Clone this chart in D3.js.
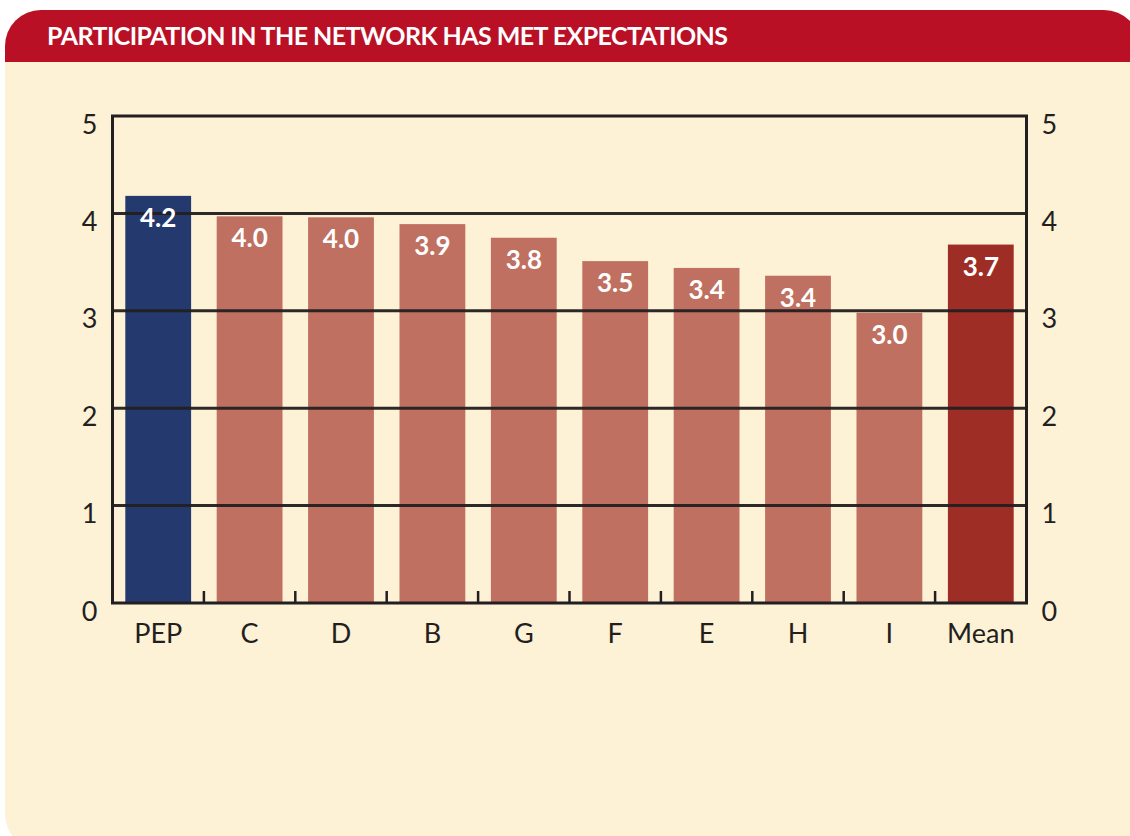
<!DOCTYPE html>
<html>
<head>
<meta charset="utf-8">
<script src="https://cdn.jsdelivr.net/npm/d3@7"></script>
<style>
body { margin: 0; background: white; }
svg { display: block; }
</style>
</head>
<body>
<svg width="1130" height="836"></svg>
<script>
// data
const categories = ["PEP", "C", "D", "B", "G", "F", "E", "H", "I", "Mean"]
const values = [4.18, 3.97, 3.96, 3.89, 3.75, 3.51, 3.44, 3.36, 2.98, 3.68]
const valueLabels = ["4.2", "4.0", "4.0", "3.9", "3.8", "3.5", "3.4", "3.4", "3.0", "3.7"]
const yTicks = [0, 1, 2, 3, 4, 5]
const title = "PARTICIPATION IN THE NETWORK HAS MET EXPECTATIONS"

const svg = d3.select("svg")
const font = "Lato, 'Liberation Sans', sans-serif"

// panel with rounded corners
svg.append("clipPath")
    .attr("id", "panel")
    .append("rect")
    .attr("x", 5)
    .attr("y", 10)
    .attr("width", 1135)
    .attr("height", 840)
    .attr("rx", 36)
const panel = svg.append("g").attr("clip-path", "url(#panel)")
panel.append("rect")
    .attr("x", 0).attr("y", 0)
    .attr("width", 1130).attr("height", 836)
    .attr("fill", "#fdf1d6")
panel.append("rect")
    .attr("x", 0).attr("y", 0)
    .attr("width", 1130).attr("height", 62)
    .attr("fill", "#b91026")

svg.append("text")
    .attr("x", 47)
    .attr("y", 45)
    .attr("fill", "white")
    .attr("font-family", font)
    .attr("font-weight", "bold")
    .attr("font-size", 25)
    .attr("textLength", 681)
    .attr("lengthAdjust", "spacing")
    .text(title)

const plotLeft = 112.5, plotRight = 1026.5, plotTop = 116, plotBottom = 603

const x = d3.scaleBand()
    .domain(categories)
    .range([plotLeft, plotRight])
    .paddingInner(0.28)
    .paddingOuter(0.14)
const y = d3.scaleLinear()
    .domain([0, 5])
    .range([plotBottom, plotTop])

function barColor(d, i) {
    if (d === "PEP") return "#243a6e"
    if (d === "Mean") return "#9e2d26"
    return "#c07060"
}

svg.selectAll("rect.bar")
    .data(categories)
    .enter()
    .append("rect")
    .attr("class", "bar")
    .attr("x", d => x(d))
    .attr("width", x.bandwidth())
    .attr("y", (d, i) => y(values[i]))
    .attr("height", (d, i) => y(0) - y(values[i]))
    .attr("fill", barColor)

// grid lines and frame
svg.selectAll("line.grid")
    .data(yTicks.slice(1, 5))
    .enter()
    .append("line")
    .attr("class", "grid")
    .attr("x1", plotLeft).attr("x2", plotRight)
    .attr("y1", d => y(d)).attr("y2", d => y(d))
    .attr("stroke", "#231f20")
    .attr("stroke-width", 3)
    .attr("opacity", 0.95)

svg.append("path")
    .attr("d", `M${plotLeft},${plotBottom}V${plotTop}H${plotRight}V${plotBottom}Z`)
    .attr("fill", "none")
    .attr("stroke", "#231f20")
    .attr("stroke-width", 3)

// small ticks between categories
svg.selectAll("line.xtick")
    .data(categories.slice(1))
    .enter()
    .append("line")
    .attr("class", "xtick")
    .attr("x1", d => x(d) - x.step() * x.paddingInner() / 2)
    .attr("x2", d => x(d) - x.step() * x.paddingInner() / 2)
    .attr("y1", plotBottom)
    .attr("y2", plotBottom - 12)
    .attr("stroke", "#231f20")
    .attr("stroke-width", 2.5)

// left and right axes labels
const leftAxis = svg.append("g")
    .attr("transform", `translate(${plotLeft},0)`)
    .call(d3.axisLeft(y).tickValues(yTicks).tickFormat(d3.format("d")).tickSize(0).tickPadding(15))
const rightAxis = svg.append("g")
    .attr("transform", `translate(${plotRight},0)`)
    .call(d3.axisRight(y).tickValues(yTicks).tickFormat(d3.format("d")).tickSize(0).tickPadding(15))
const bottomAxis = svg.append("g")
    .attr("transform", `translate(0,${plotBottom})`)
    .call(d3.axisBottom(x).tickSize(0).tickPadding(0))
for (const g of [leftAxis, rightAxis, bottomAxis]) {
    g.select(".domain").remove()
    g.selectAll("text")
        .attr("font-family", font)
        .attr("font-size", 27)
        .attr("fill", "#231f20")
}
leftAxis.selectAll("text").attr("dy", "17px")
rightAxis.selectAll("text").attr("dy", "17px")
bottomAxis.selectAll("text").attr("dy", "40px")

// value labels inside bars
svg.selectAll("text.value")
    .data(categories)
    .enter()
    .append("text")
    .attr("class", "value")
    .attr("x", d => x(d) + x.bandwidth() / 2)
    .attr("y", (d, i) => y(values[i]) + 31)
    .attr("text-anchor", "middle")
    .attr("fill", "white")
    .attr("font-family", font)
    .attr("font-weight", "bold")
    .attr("font-size", 26)
    .text((d, i) => valueLabels[i])
</script>
</body>
</html>
